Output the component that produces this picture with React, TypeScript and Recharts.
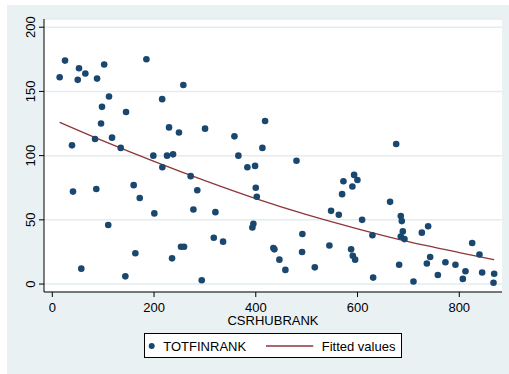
import React from "react";
import { ComposedChart, Scatter, Line, XAxis, YAxis, CartesianGrid } from "recharts";

// scatter: CSRHUBRANK (x) vs TOTFINRANK (y)
const csrRank = [
  14.5, 25, 52.5, 65, 50, 88, 102, 185, 257.6, 111.5, 97.7, 216, 145, 95.8, 229.5, 249, 38.7, 84, 117.4, 134.5,
  198.6, 225.6, 237.4, 300.3, 418.3, 358, 413, 365.8, 480, 676, 216.3, 272, 40.7, 86.5, 160, 171.9, 285, 200.6, 277.4, 110,
  163.3, 253, 259, 235.4, 57, 143.6, 383.5, 398.6, 400, 402, 320.6, 395.3, 393.3, 317.4, 335.7, 434.6, 436.6, 446.4, 458.2, 516,
  491.6, 491, 544.7, 572.3, 569.7, 548, 563.2, 293.8, 593.3, 599.8, 589.9, 664, 685, 687, 609, 689, 685, 692.3, 726.4, 738.8,
  629.3, 587.4, 590.7, 595.3, 681.8, 742.8, 736.3, 772.8, 792.5, 825.4, 839.7, 812.2, 807, 845, 868.6, 867.3, 757.9, 710, 630.7,
];
const totFinRank = [
  161, 174, 168, 164, 159, 160, 171, 175, 155, 146, 138, 144, 134, 125, 122, 118, 108, 113, 114, 106,
  100, 100, 101, 121, 127, 115, 106, 100, 96, 109, 91, 84, 72, 74, 77, 67, 73, 55, 58, 46,
  24, 29, 29, 20, 12, 6, 91, 92, 75, 68, 56, 47, 44, 36, 33, 28, 27, 19, 11, 13,
  39, 25, 30, 80, 70, 57, 54, 3, 85, 81, 76, 64, 53, 49, 50, 41, 37, 35, 40, 45,
  38, 27, 22, 19, 15, 21, 16, 17, 15, 32, 23, 10, 4, 9, 8, 1, 7, 2, 5,
];

// fitted values line
const fitX = [14.5, 100, 200, 300, 400, 500, 600, 700, 800, 868.6];
const fitY = [126, 111.5, 95.5, 80.5, 66.5, 54, 43, 33, 24.5, 19];

const xTicks = [0, 200, 400, 600, 800];
const yTicks = [0, 50, 100, 150, 200];

const points = csrRank.map((x, i) => ({ x, y: totFinRank[i] }));
const fitted = fitX.map((x, i) => ({ x, fit: fitY[i] }));

const FONT = '"Liberation Sans", Arial, sans-serif';
const NAVY = "#1a476f";
const MAROON = "#90353b";

const Dot = (props: any) => <circle cx={props.cx} cy={props.cy} r={3.3} fill={NAVY} />;

const YTick = ({ x, y, payload }: any) => (
  <text
    x={x - 1.5}
    y={y}
    transform={`rotate(-90 ${x - 1.5} ${y})`}
    textAnchor="middle"
    fontSize={13}
    fontFamily={FONT}
    fill="#000"
  >
    {payload.value}
  </text>
);

export default function App() {
  return (
    <div style={{ position: "absolute", left: 0, top: 0, width: 509, height: 374, background: "#fff" }}>
      <div style={{ position: "absolute", left: 7, top: 5, width: 502, height: 369, background: "#eaf1f3" }} />
      <div style={{ position: "absolute", left: 0, top: 0 }}>
        <ComposedChart width={509} height={374} margin={{ top: 19, right: 7, left: 0, bottom: 50 }}>
          <CartesianGrid vertical={false} fill="#fff" stroke="#e3ecee" strokeWidth={1.5} />
          <XAxis
            dataKey="x"
            type="number"
            domain={[-16.3, 884]}
            ticks={xTicks}
            height={32}
            tickSize={5}
            tickMargin={6}
            stroke="#000"
            tick={{ fontSize: 13, fontFamily: FONT, fill: "#000" }}
            allowDataOverflow
            label={{ value: "CSRHUBRANK", position: "insideBottom", offset: -1, fontSize: 13, fontFamily: FONT, fill: "#000" }}
          />
          <YAxis
            type="number"
            domain={[-6.2, 206.4]}
            ticks={yTicks}
            width={44}
            tickSize={5}
            tickMargin={2}
            stroke="#000"
            tick={<YTick />}
            allowDataOverflow
          />
          <Scatter data={points} dataKey="y" shape={<Dot />} isAnimationActive={false} />
          <Line
            data={fitted}
            dataKey="fit"
            type="monotone"
            stroke={MAROON}
            strokeWidth={1.3}
            dot={false}
            activeDot={false}
            isAnimationActive={false}
          />
        </ComposedChart>
      </div>
      <div
        style={{
          position: "absolute",
          left: 144,
          top: 333,
          width: 258,
          height: 25,
          boxSizing: "border-box",
          border: "1px solid #000",
          background: "#fff",
        }}
      >
        <svg width={256} height={23} style={{ display: "block" }}>
          <circle cx={6.7} cy={12} r={3} fill={NAVY} />
          <text x={18.3} y={16.7} fontSize={13} fontFamily={FONT} fill="#000">
            TOTFINRANK
          </text>
          <line x1={121} y1={12} x2={168.3} y2={12} stroke={MAROON} strokeWidth={1.3} />
          <text x={176.7} y={16.7} fontSize={13} fontFamily={FONT} fill="#000">
            Fitted values
          </text>
        </svg>
      </div>
    </div>
  );
}
